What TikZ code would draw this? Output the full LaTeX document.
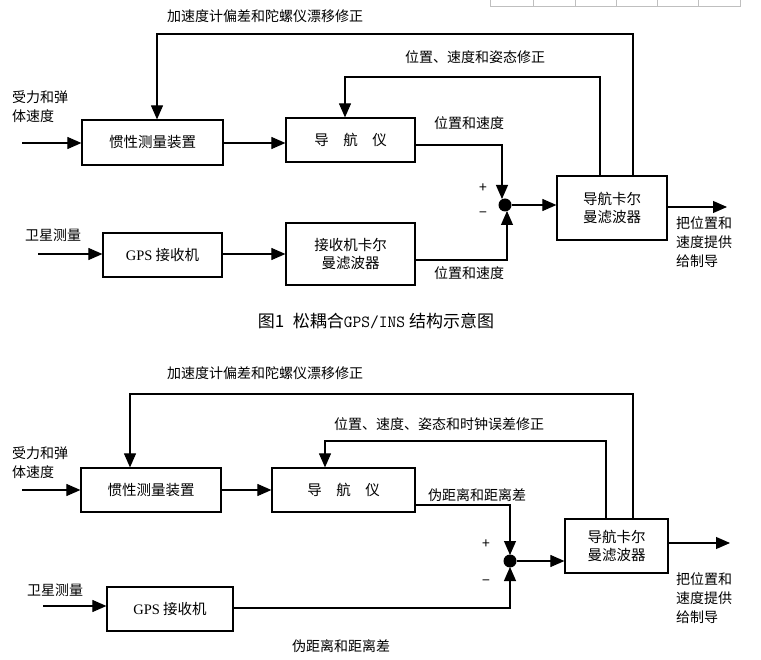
\documentclass[tikz,border=0pt]{standalone}
\usepackage{fontspec}
\setmainfont{Liberation Serif}
\newfontfamily\cjk{Noto Sans CJK SC}
\usetikzlibrary{arrows.meta}
\begin{document}
\begin{tikzpicture}[x=1pt,y=-1pt,
  box/.style={draw,line width=1.2pt,inner sep=0pt,font=\cjk\fontsize{14.5}{18}\selectfont,align=center},
  lab/.style={font=\cjk\fontsize{14}{19}\selectfont,inner sep=0pt,align=left},
  ln/.style={line width=1.1pt},
  arr/.style={ln,-{Triangle[length=14pt,width=12pt]}},
  dot/.style={circle,fill,inner sep=0pt,minimum size=13pt}]
\useasboundingbox (0,0) rectangle (761,660);
% top-right artifact
\draw[gray!50,line width=0.6pt] (490,-1) rectangle (740,6);
\foreach \x in {533,575,616,657,698} \draw[gray!50,line width=0.6pt] (\x,0) -- (\x,6);
% ===== figure 1 =====
\node[box,minimum width=141pt,minimum height=45pt] (imu) at (152.5,142.5) {惯性测量装置};
\node[box,minimum width=129pt,minimum height=44pt] (nav) at (350.5,140) {导\quad 航\quad 仪};
\node[box,minimum width=119pt,minimum height=44pt] (gps) at (162.5,255) {{\rmfamily GPS} 接收机};
\node[box,minimum width=129pt,minimum height=62pt] (rkf) at (350.5,254) {接收机卡尔\\曼滤波器};
\node[box,minimum width=110pt,minimum height=64pt] (kf) at (612,208) {导航卡尔\\曼滤波器};
\node[dot] (s) at (505,205) {};
\coordinate (in1) at (22,143);
\coordinate (in2) at (38,254);
\coordinate (out) at (727,207);
\draw[arr] (in1) -- (imu.west|-in1);
\draw[arr] (in2) -- (gps.west|-in2);
\draw[arr] (imu.east|-in1) -- (nav.west|-in1);
\draw[arr] (gps.east|-in2) -- (rkf.west|-in2);
\draw[arr] (nav.east|-0,145) -| (502,199);
\draw[arr] (rkf.east|-0,260) -| (507,211);
\draw[arr] (s) -- (kf.west|-s);
\draw[arr] (kf.east|-out) -- (out);
\draw[arr] (kf.north-|633,0) |- (157,34) -- (imu.north-|157,0);
\draw[arr] (kf.north-|600,0) |- (345,77) -- (nav.north-|345,0);
\node[lab,anchor=west] (l1) at (167,16) {加速度计偏差和陀螺仪漂移修正};
\node[lab,anchor=west] (l2) at (405,57) {位置、速度和姿态修正};
\node[lab,anchor=west] (l3) at (434,123) {位置和速度};
\node[lab,anchor=west] (l4) at (434,273) {位置和速度};
\node[lab] (p1) at (483,188) {+};
\node[lab] (n1) at (483,215) {\textminus};
\node[lab,anchor=north west] (l5) at (12,90) {受力和弹\\体速度};
\node[lab,anchor=west] (l6) at (25,235) {卫星测量};
\node[lab,anchor=north west] (l7) at (676,216) {把位置和\\速度提供\\给制导};
\node[font=\cjk\fontsize{17}{20}\selectfont,inner sep=0pt] (cap) at (376,321) {图1\enspace 松耦合{\ttfamily GPS/INS} 结构示意图};
% ===== figure 2 =====
\node[box,minimum width=140pt,minimum height=44pt] (imu2) at (151,490) {惯性测量装置};
\node[box,minimum width=143pt,minimum height=44pt] (nav2) at (343.5,490) {导\quad 航\quad 仪};
\node[box,minimum width=126pt,minimum height=44pt] (gps2) at (170,609) {{\rmfamily GPS} 接收机};
\node[box,minimum width=103pt,minimum height=54pt] (kf2) at (616.5,546) {导航卡尔\\曼滤波器};
\node[dot] (s2) at (510,561) {};
\coordinate (in3) at (22,490);
\coordinate (in4) at (43,606);
\coordinate (out2) at (730,543);
\draw[arr] (in3) -- (imu2.west|-in3);
\draw[arr] (in4) -- (gps2.west|-in4);
\draw[arr] (imu2.east|-in3) -- (nav2.west|-in3);
\draw[arr] (nav2.east|-0,505) -| (510,555);
\draw[arr] (gps2.east|-0,608) -| (510,567);
\draw[arr] (s2) -- (kf2.west|-s2);
\draw[arr] (kf2.east|-out2) -- (out2);
\draw[arr] (kf2.north-|633,0) |- (130,394) -- (imu2.north-|130,0);
\draw[arr] (kf2.north-|606,0) |- (325,441) -- (nav2.north-|325,0);
\node[lab,anchor=west] (m1) at (167,373) {加速度计偏差和陀螺仪漂移修正};
\node[lab,anchor=west] (m2) at (334,424) {位置、速度、姿态和时钟误差修正};
\node[lab,anchor=west] (m3) at (428,495) {伪距离和距离差};
\node[lab,anchor=west] (m4) at (292,646) {伪距离和距离差};
\node[lab] (p2) at (486,544) {+};
\node[lab] (n2) at (486,583) {\textminus};
\node[lab,anchor=north west] (m5) at (12,446) {受力和弹\\体速度};
\node[lab,anchor=west] (m6) at (27,590) {卫星测量};
\node[lab,anchor=north west] (m7) at (676,572) {把位置和\\速度提供\\给制导};
\end{tikzpicture}
\end{document}
